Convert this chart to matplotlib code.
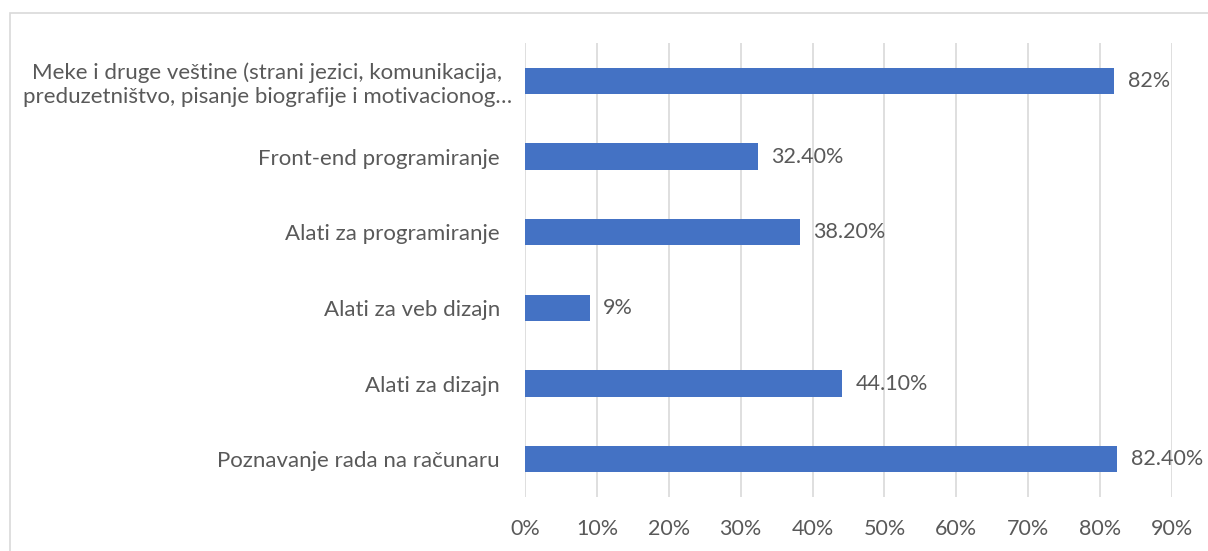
import matplotlib.pyplot as plt
from matplotlib.patches import Rectangle
from matplotlib.ticker import FuncFormatter
from matplotlib.transforms import ScaledTranslation

# ==========================================
# DATA
# ==========================================

categories = [
    "Poznavanje rada na računaru",
    "Alati za dizajn",
    "Alati za veb dizajn",
    "Alati za programiranje",
    "Front-end programiranje",
    "Meke i druge veštine (strani jezici, komunikacija,\n"
    "preduzetništvo, pisanje biografije i motivacionog…",
]

values = [82.4, 44.1, 9, 38.2, 32.4, 82]

value_labels = ["82.40%", "44.10%", "9%", "38.20%", "32.40%", "82%"]

x_ticks = [0, 10, 20, 30, 40, 50, 60, 70, 80, 90]


# ==========================================
# STYLE
# ==========================================

plt.rcParams['font.family'] = ['Lato', 'DejaVu Sans']

text_color = '#595959'
bar_color = '#4472C4'
grid_color = '#D9D9D9'
fs = 15.5


# ==========================================
# FIGURE
# ==========================================

fig = plt.figure(figsize=(12.08, 5.51), dpi=100)

# outer chart border (light gray frame)
border = Rectangle(
    (10 / 1208, -0.05),
    1.2,
    1 - 13 / 551 + 0.05,
    transform=fig.transFigure,
    fill=False,
    edgecolor='#D9D9D9',
    linewidth=1.2
)
fig.patches.append(border)

ax = fig.add_axes([525 / 1208, 54 / 551, 647 / 1208, 454 / 551])

y_pos = list(range(len(categories)))

ax.barh(
    y_pos,
    values,
    height=0.35,
    color=bar_color,
    zorder=3
)

for y, v, lab in zip(y_pos, values, value_labels):

    ax.text(
        v + 1.9,
        y,
        lab,
        va='center',
        ha='left',
        fontsize=fs,
        color=text_color
    )

ax.set_xlim(0, 90)
ax.set_ylim(-0.5, len(categories) - 0.5)

ax.set_xticks(x_ticks)
ax.xaxis.set_major_formatter(FuncFormatter(lambda v, p: f"{int(v)}%"))

ax.set_yticks(y_pos)
ax.set_yticklabels(categories, fontsize=16, color=text_color,
                   multialignment='center', linespacing=1.25)

ax.tick_params(axis='x', labelsize=fs, labelcolor=text_color,
               length=0, pad=16)
ax.tick_params(axis='y', length=0, pad=18)

# the wrapped label sits a bit closer to the bars
long_label = ax.get_yticklabels()[-1]
long_label.set_transform(
    long_label.get_transform() +
    ScaledTranslation(0.12, 0, fig.dpi_scale_trans)
)

ax.grid(axis='x', color=grid_color, linewidth=1.2, zorder=0)
ax.set_axisbelow(True)

for side in ['top', 'right', 'bottom', 'left']:
    ax.spines[side].set_visible(False)

fig.savefig("out.png", dpi=100)
